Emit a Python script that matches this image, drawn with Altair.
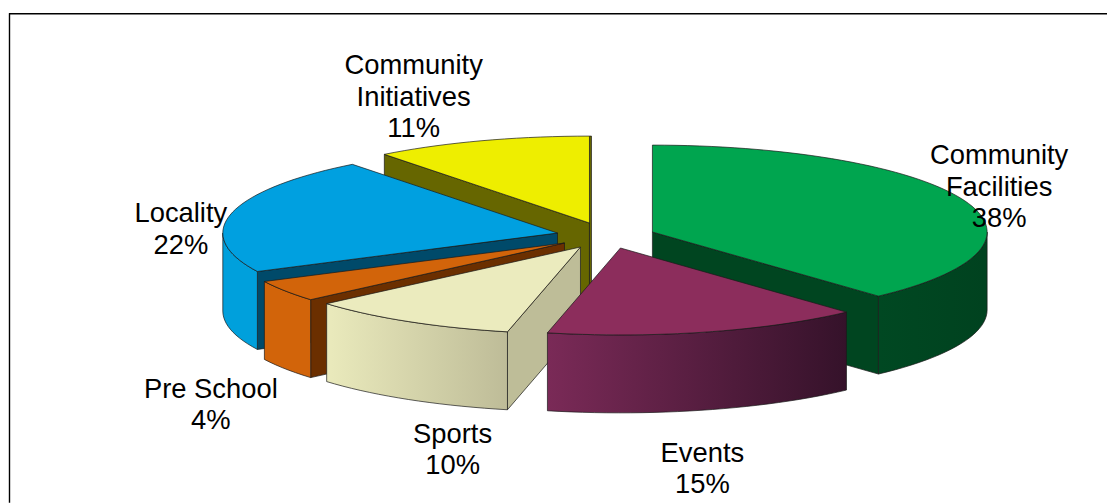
import math
import altair as alt

# Data
names = ["Community Facilities", "Events", "Sports", "Pre School", "Locality", "Community Initiatives"]
shares = [38.2, 15.3, 10.2, 4.0, 21.8, 10.5]  # unrounded slice sizes, labels show rounded values
label_lines = [["Community", "Facilities", "38%"], ["Events", "15%"], ["Sports", "10%"],
               ["Pre School", "4%"], ["Locality", "22%"], ["Community", "Initiatives", "11%"]]

# Style / layout
top_colors = ["#00A54F", "#8C2D5C", "#EBEBBE", "#D2640A", "#00A0E0", "#EEEE00"]
cut_colors = ["#004520", "#3F142A", "#BEBD98", "#6B2F00", "#004A6A", "#666600"]
wall_stops = [["#004822", "#00421F"], ["#7A2A57", "#35122A"], ["#EAEABC", "#BEBC98"],
              ["#D2640A", "#D2640A"], ["#00A0DC", "#00A0DC"], ["#666600", "#666600"]]
apex = [(653, 232), (621, 248), (581, 247), (565, 243), (558, 233), (590, 223)]
label_pos = [(1000, 156), (703, 454), (453, 435), (211, 390), (181, 214), (414, 66)]
draw_order = [5, 4, 3, 2, 0, 1]
RX, RY, DEPTH = 335, 87, 78
OX, OY = 8, 8
FONT = "Liberation Sans"
FONT_SIZE = 27.4
LINE = 31.5
OUTLINE = "#1a1a1a"
W, H = 1100, 495


def rim(cx, cy, t, dy=0):
    a = math.radians(t)
    return [cx + RX * math.sin(a) - OX, cy - RY * math.cos(a) + dy - OY]


def arc(cx, cy, t0, t1, dy=0):
    n = max(2, int(abs(t1 - t0) / 2))
    return [rim(cx, cy, t0 + (t1 - t0) * i / n, dy) for i in range(n + 1)]


def feature(points):
    return {"type": "Feature", "properties": {},
            "geometry": {"type": "Polygon", "coordinates": [points + [points[0]]]}}


def shape(points, fill):
    return (alt.Chart(alt.Data(values=[feature(points)]))
            .mark_geoshape(fill=fill, stroke=OUTLINE, strokeWidth=0.7)
            .project(type="identity", scale=1, translate=[0, 0]))


def gradient(c0, c1):
    return alt.LinearGradient(gradient="linear", x1=0, x2=1, y1=0, y2=0,
                              stops=[alt.GradientStop(color=c0, offset=0),
                                     alt.GradientStop(color=c1, offset=1)])


layers = []
# slice angle limits
edges = [0.0]
for s in shares:
    edges.append(edges[-1] + s * 3.6)

for i in draw_order:
    cx, cy = apex[i]
    t0, t1 = edges[i], edges[i + 1]
    tip = [cx - OX, cy - OY]
    tip_low = [cx - OX, cy - OY + DEPTH]
    # radial cut faces visible from the viewer
    if i == 0:      # end edge faces the viewer
        layers.append(shape([tip, rim(cx, cy, t1), rim(cx, cy, t1, DEPTH), tip_low], cut_colors[i]))
    if i in (2, 3, 4, 5):  # start edge faces the viewer
        layers.append(shape([tip, rim(cx, cy, t0), rim(cx, cy, t0, DEPTH), tip_low], cut_colors[i]))
    if i == 5:      # thin sliver on the right of the yellow slice
        layers.append(shape([tip, [tip[0], cy - RY - OY], [tip[0] + 2, cy - RY - OY], [tip[0] + 2, tip_low[1]], tip_low], cut_colors[i]))
    # outer wall, front half only
    w0, w1 = max(t0, 90), min(t1, 270)
    if w1 > w0:
        upper = arc(cx, cy, w0, w1)
        lower = arc(cx, cy, w1, w0, DEPTH)
        c = wall_stops[i]
        layers.append(shape(upper + lower, gradient(c[0], c[1])))
    # top face
    layers.append(shape([tip] + arc(cx, cy, t0, t1), top_colors[i]))

# frame
layers.append(alt.Chart(alt.Data(values=[{}])).mark_rule(color="black", strokeWidth=1.4)
              .encode(x=alt.value(1.5), y=alt.value(5), y2=alt.value(H)))
layers.append(alt.Chart(alt.Data(values=[{}])).mark_rule(color="black", strokeWidth=1.4)
              .encode(y=alt.value(5.5), x=alt.value(1), x2=alt.value(W)))

# labels
for i, lines in enumerate(label_lines):
    lx, ly = label_pos[i]
    for k, line in enumerate(lines):
        layers.append(alt.Chart(alt.Data(values=[{"t": line}]))
                      .mark_text(font=FONT, fontSize=FONT_SIZE, color="black", align="center", baseline="middle")
                      .encode(text="t:N", x=alt.value(lx - OX), y=alt.value(ly - OY + k * LINE)))

chart = (alt.layer(*layers)
         .properties(width=W, height=H, padding=0, background="white")
         .configure_view(stroke=None))
chart.save("out.html", embed_options={"renderer": "svg", "actions": False})
